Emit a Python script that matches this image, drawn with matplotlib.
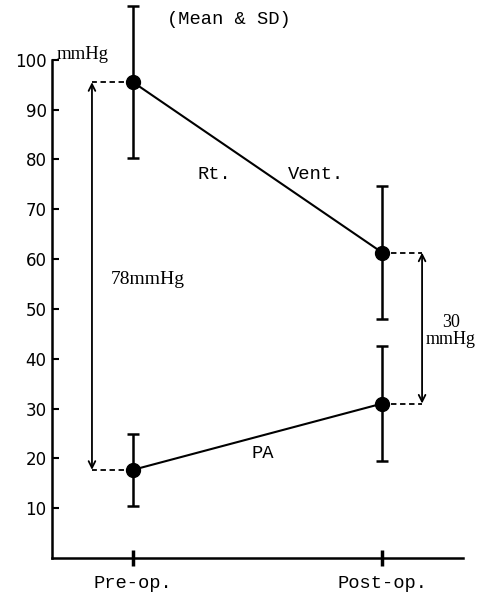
import numpy as np
import matplotlib.pyplot as plt

# Mean & SD (mmHg)
groups = ['Pre-op.', 'Post-op.']
rv_mean = [95.5, 61.3]
rv_sd = [15.3, 13.3]
pa_mean = [17.7, 31.0]
pa_sd = [7.2, 11.5]
gradient_labels = ['78mmHg', '30\nmmHg']
y_ticks = [10, 20, 30, 40, 50, 60, 70, 80, 90, 100]

mono = 'Liberation Mono'
serif = 'Liberation Serif'

fig = plt.figure(figsize=(4.78, 5.94), dpi=100)
ax = fig.add_axes([0.109, 0.0606, 0.86, 0.9394])
x = np.arange(len(groups))

# series with error bars
for mean, sd in [(rv_mean, rv_sd), (pa_mean, pa_sd)]:
    ax.errorbar(x, mean, yerr=sd, color='black', lw=1.5, elinewidth=1.8,
                capsize=4, capthick=1.8, marker='o', markersize=10, zorder=3)

# pressure gradient arrows with dashed leaders
arrow_x = [-0.165, 0.16]
for i in range(len(groups)):
    ax.plot([x[i], x[i] + arrow_x[i]], [rv_mean[i], rv_mean[i]], color='black',
            ls=(0, (3, 2)), lw=1.3)
    ax.plot([x[i], x[i] + arrow_x[i]], [pa_mean[i], pa_mean[i]], color='black',
            ls=(0, (3, 2)), lw=1.3)
    ax.annotate('', xy=(x[i] + arrow_x[i], rv_mean[i]), xytext=(x[i] + arrow_x[i], pa_mean[i]),
                arrowprops=dict(arrowstyle='<->', color='black', lw=1.3, mutation_scale=12,
                                shrinkA=0, shrinkB=0))

ax.text(-0.09, 56, gradient_labels[0], fontsize=14, family=serif, ha='left', va='center')
ax.text(1.275, 45.5, gradient_labels[1], fontsize=13, family=serif, ha='center', va='center',
        linespacing=1.0)

ax.text(0.26, 77, 'Rt.', fontsize=13.5, family=mono, ha='left', va='center')
ax.text(0.62, 77, 'Vent.', fontsize=13.5, family=mono, ha='left', va='center')
ax.text(0.52, 21, 'PA', fontsize=13.5, family=mono, ha='center', va='center')
ax.text(0.386, 108, '(Mean & SD)', fontsize=13.5, family=mono, ha='center', va='center')
ax.text(-0.305, 101, 'mmHg', fontsize=13.5, family=serif, ha='left', va='center')

ax.set_xlim(-0.325, 1.325)
ax.set_ylim(0, 112)
ax.set_xticks(x)
ax.set_xticklabels(groups, family=mono, fontsize=13.5)
ax.set_yticks(y_ticks)
ax.set_yticklabels([str(t) for t in y_ticks], fontsize=12)
ax.tick_params(axis='y', direction='in', length=5, width=1.5, pad=4)
ax.tick_params(axis='x', direction='inout', length=12, width=2.5, pad=6)

for s in ['top', 'right']:
    ax.spines[s].set_visible(False)
ax.spines['left'].set_bounds(0, 100)
ax.spines['left'].set_linewidth(1.8)
ax.spines['bottom'].set_linewidth(1.8)

fig.savefig('out.png', dpi=100)
